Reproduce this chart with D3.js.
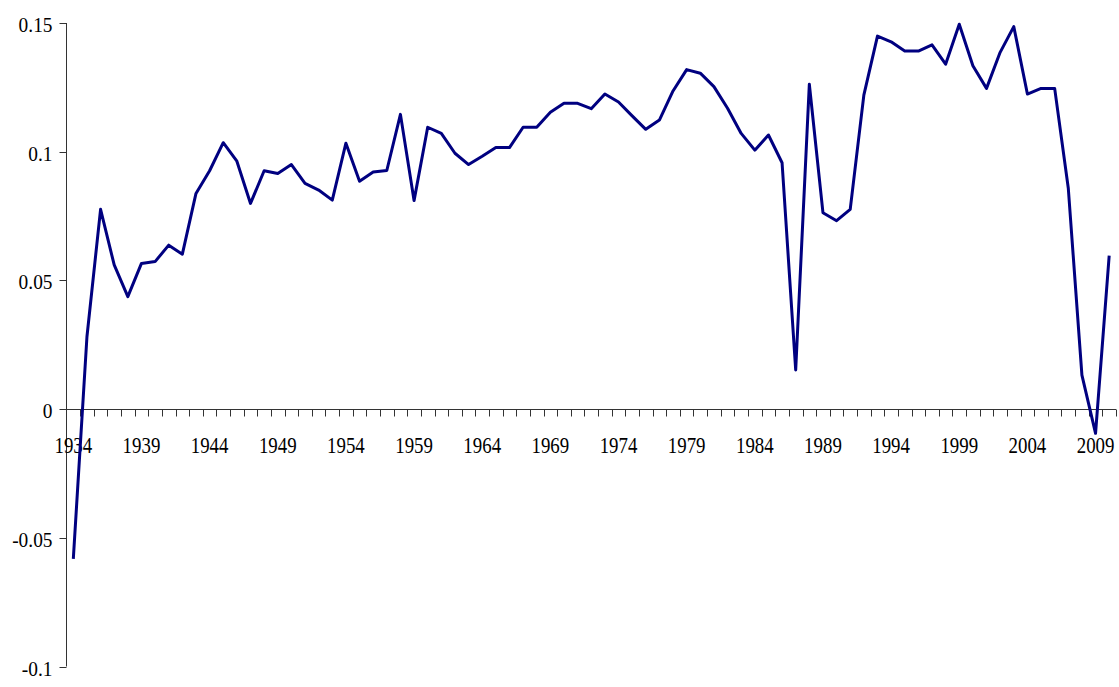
<!DOCTYPE html>
<html><head><meta charset="utf-8">
<script src="https://cdn.jsdelivr.net/npm/d3@7"></script>
<style>html,body{margin:0;padding:0;background:#fff;}</style>
</head><body>
<svg id="chart" width="1119" height="687"></svg>
<script>
const years = d3.range(1934, 2011);
const values = [
 -0.0582, 0.0281, 0.0776, 0.0560, 0.0437, 0.0566, 0.0573, 0.0637, 0.0602, 0.0838,
 0.0926, 0.1035, 0.0963, 0.0799, 0.0926, 0.0915, 0.0950, 0.0877, 0.0851, 0.0812,
 0.1033, 0.0885, 0.0921, 0.0927, 0.1145, 0.0810, 0.1095, 0.1071, 0.0994, 0.0950,
 0.0982, 0.1016, 0.1016, 0.1095, 0.1095, 0.1153, 0.1188, 0.1188, 0.1167, 0.1224,
 0.1193, 0.1139, 0.1087, 0.1123, 0.1236, 0.1319, 0.1305, 0.1253, 0.1169, 0.1071,
 0.1006, 0.1065, 0.0957, 0.0152, 0.1262, 0.0763, 0.0732, 0.0776, 0.1220, 0.1449,
 0.1427, 0.1391, 0.1391, 0.1415, 0.1340, 0.1495, 0.1334, 0.1246, 0.1386, 0.1486,
 0.1224, 0.1246, 0.1246, 0.0858, 0.0132, -0.0094, 0.0596
];
const yTicks = [-0.1, -0.05, 0, 0.05, 0.1, 0.15];
const yTickLabels = ["-0.1", "-0.05", "0", "0.05", "0.1", "0.15"];
const xLabelYears = d3.range(1934, 2011, 5);

const svg = d3.select("#chart");
const x = d3.scaleBand().domain(years).range([66.5, 1116]).paddingInner(0).paddingOuter(0);
const y = d3.scaleLinear().domain([-0.1, 0.15]).range([666.5, 23]);
const fontFam = "'Liberation Serif','Times New Roman',serif";

// y axis
const yAxisG = svg.append("g").attr("transform", "translate(66.5,0)");
yAxisG.append("line").attr("x1",0).attr("x2",0).attr("y1",y(0.15)).attr("y2",y(-0.1))
  .attr("stroke","#333").attr("stroke-width",1);
yTicks.forEach((t,i)=>{
  const yy = Math.round(y(t))+0.5;
  yAxisG.append("line").attr("x1",-7).attr("x2",0).attr("y1",yy).attr("y2",yy)
    .attr("stroke","#333").attr("stroke-width",1);
  yAxisG.append("text").attr("transform",`translate(-14,${y(t)+9}) scale(0.88,1)`)
    .attr("text-anchor","end").attr("font-family",fontFam).attr("font-size",22)
    .attr("fill","#000").text(yTickLabels[i]);
});

// x axis at zero
const y0 = Math.round(y(0))+0.5;
svg.append("line").attr("x1",66.5).attr("x2",1116).attr("y1",y0).attr("y2",y0)
  .attr("stroke","#333").attr("stroke-width",1);
years.forEach((yr)=>{
  const xx = Math.round(x(yr)+x.bandwidth())+0.5;
  svg.append("line").attr("x1",xx).attr("x2",xx).attr("y1",y0).attr("y2",y0+7)
    .attr("stroke","#333").attr("stroke-width",1);
});
xLabelYears.forEach(yr=>{
  const cx = x(yr)+x.bandwidth()/2;
  svg.append("text").attr("transform",`translate(${cx},453) scale(0.82,1)`)
    .attr("text-anchor","middle").attr("font-family",fontFam).attr("font-size",23)
    .attr("fill","#000").text(yr);
});

// line
const line = d3.line().x((d,i)=>x(years[i])+x.bandwidth()/2).y(d=>y(d));
svg.append("path").datum(values).attr("d",line).attr("fill","none")
  .attr("stroke","#000080").attr("stroke-width",3).attr("stroke-linejoin","round");
</script>
</body></html>
